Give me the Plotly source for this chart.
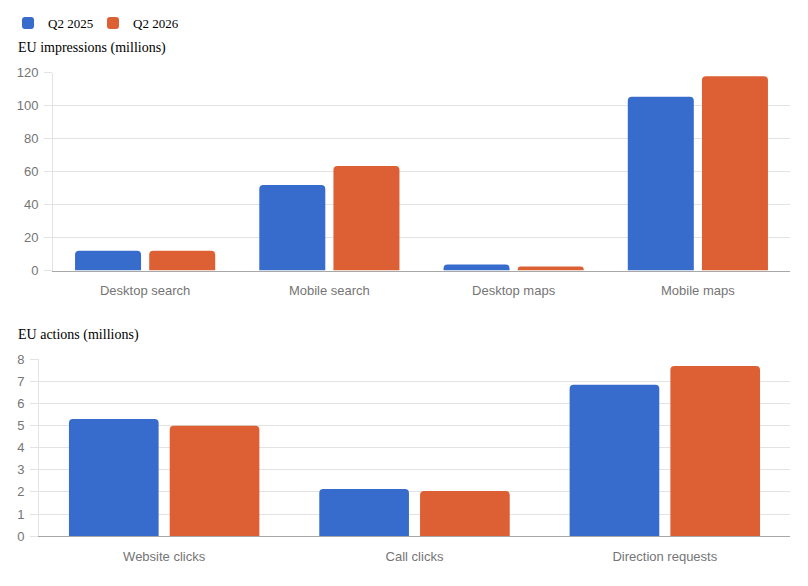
import plotly.graph_objects as go

# top chart: impressions
imp_categories = ["Desktop search", "Mobile search", "Desktop maps", "Mobile maps"]
imp_2025 = [12, 52, 3.6, 105.5]
imp_2026 = [12, 63.5, 2.4, 118]

# bottom chart: actions
act_categories = ["Website clicks", "Call clicks", "Direction requests"]
act_2025 = [5.3, 2.13, 6.85]
act_2026 = [5.0, 2.04, 7.7]

series_names = ["Q2 2025", "Q2 2026"]
BLUE = "#376bcc"
ORANGE = "#dc6034"

W, H = 808, 586
OFF = 8  # page body margin
GRID = "#e3e3e3"
TICK_FONT = dict(family="Liberation Sans, Arial", size=13, color="#757575")
SERIF = "Liberation Serif, Times New Roman, serif"

fig = go.Figure()

fig.add_trace(go.Bar(x=imp_categories, y=imp_2025, name=series_names[0],
                     marker_color=BLUE, xaxis="x", yaxis="y", legendgroup="a"))
fig.add_trace(go.Bar(x=imp_categories, y=imp_2026, name=series_names[1],
                     marker_color=ORANGE, xaxis="x", yaxis="y", legendgroup="b"))
fig.add_trace(go.Bar(x=act_categories, y=act_2025, name=series_names[0],
                     marker_color=BLUE, xaxis="x2", yaxis="y2", legendgroup="a",
                     showlegend=False))
fig.add_trace(go.Bar(x=act_categories, y=act_2026, name=series_names[1],
                     marker_color=ORANGE, xaxis="x2", yaxis="y2", legendgroup="b",
                     showlegend=False))

fig.update_traces(marker_line_width=0, hoverinfo="x+y+name")


def fx(p):
    return (p - OFF) / W


def fy(p):
    return 1 - (p - OFF) / H


yax = dict(showgrid=True, gridcolor=GRID, gridwidth=1, ticks="outside", ticklen=8,
           tickcolor=GRID, showline=True, linecolor=GRID, linewidth=1,
           zeroline=False, tickfont=TICK_FONT, ticklabelstandoff=3,
           automargin=False, fixedrange=True)
xax = dict(showgrid=False, showline=True, linecolor="#a8a8a8", linewidth=1,
           ticks="", tickfont=TICK_FONT, ticklabelstandoff=8,
           automargin=False, fixedrange=True)

fig.update_layout(
    width=W, height=H,
    template="none",
    paper_bgcolor="white", plot_bgcolor="white",
    margin=dict(l=0, r=0, t=0, b=0),
    barmode="group",
    bargap=0.195,
    bargroupgap=0.11,
    barcornerradius=4,
    font=dict(family=SERIF, size=14, color="black"),
    xaxis=dict(xax, domain=[fx(53), fx(790)], anchor="y"),
    yaxis=dict(yax, domain=[fy(270), fy(72)], range=[0, 120], dtick=20, anchor="x"),
    xaxis2=dict(xax, domain=[fx(39), fx(790)], anchor="y2"),
    yaxis2=dict(yax, domain=[fy(536), fy(359)], range=[0, 8], dtick=1, anchor="x2"),
    legend=dict(orientation="h", x=0, y=fy(22), xanchor="left", yanchor="middle",
                font=dict(family=SERIF, size=13, color="black"),
                itemwidth=30, entrywidth=40, entrywidthmode="pixels",
                tracegroupgap=0, bgcolor="rgba(0,0,0,0)"),
    annotations=[
        dict(text="EU impressions (millions)", x=fx(16), y=fy(47), xref="paper",
             yref="paper", xanchor="left", yanchor="middle", showarrow=False,
             font=dict(family=SERIF, size=14, color="black")),
        dict(text="EU actions (millions)", x=fx(16), y=fy(335), xref="paper",
             yref="paper", xanchor="left", yanchor="middle", showarrow=False,
             font=dict(family=SERIF, size=14, color="black")),
    ],
)

fig.write_html("out.html")
